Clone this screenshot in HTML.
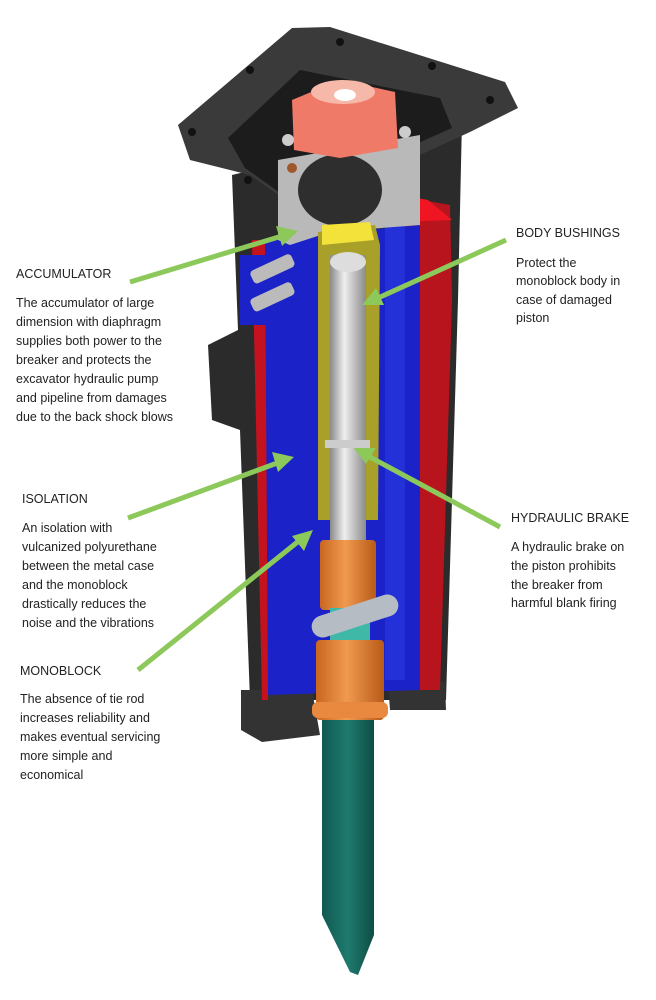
<!DOCTYPE html>
<html><head><meta charset="utf-8"><style>
html,body{margin:0;padding:0;background:#fff}
svg{display:block}
text{font-family:"Liberation Sans",sans-serif;font-size:12.5px;fill:#222}
</style></head><body>
<svg width="656" height="1000" viewBox="0 0 656 1000" xmlns="http://www.w3.org/2000/svg">
<defs>
<linearGradient id="pist" x1="0" x2="1"><stop offset="0" stop-color="#8a8a8a"/><stop offset="0.4" stop-color="#eee"/><stop offset="1" stop-color="#8a8a8a"/></linearGradient>
<linearGradient id="teal" x1="0" x2="1"><stop offset="0" stop-color="#0f5a52"/><stop offset="0.5" stop-color="#1f7a6e"/><stop offset="1" stop-color="#0e4d46"/></linearGradient>
<linearGradient id="org" x1="0" x2="1"><stop offset="0" stop-color="#c9661f"/><stop offset="0.45" stop-color="#f09a4f"/><stop offset="1" stop-color="#b85a18"/></linearGradient>
</defs>
<path d="M322 720 L374 720 L374 935 L358 975 L350 972 L322 915 Z" fill="url(#teal)"/>
<path d="M232 175 L462 120 L458 300 L446 700 L250 700 L240 430 L212 420 L208 345 L238 330 Z" fill="#2b2b2b"/>
<path d="M241 690 L312 690 L320 735 L262 742 L241 730 Z" fill="#333"/>
<path d="M388 682 L445 682 L446 710 L390 710 Z" fill="#333"/>
<path d="M178 125 L292 28 L330 27 L505 82 L518 108 L470 132 L300 210 L250 175 L190 160 Z" fill="#3a3a3a"/>
<path d="M228 138 L300 70 L440 98 L452 128 L290 200 L245 168 Z" fill="#1c1c1c"/>
<circle cx="192" cy="132" r="4" fill="#111"/><circle cx="250" cy="70" r="4" fill="#111"/><circle cx="340" cy="42" r="4" fill="#111"/><circle cx="432" cy="66" r="4" fill="#111"/><circle cx="490" cy="100" r="4" fill="#111"/><circle cx="248" cy="180" r="4" fill="#111"/>
<path d="M252 240 L268 240 L268 700 L262 700 Z" fill="#c5121f"/>
<path d="M395 195 L450 205 L452 300 L440 690 L395 690 Z" fill="#b8141e"/>
<path d="M400 195 L428 200 L452 220 L400 222 Z" fill="#f01522"/>
<path d="M265 240 L420 225 L420 690 L268 695 Z" fill="#1a22c8"/>
<rect x="385" y="225" width="20" height="455" fill="#2430d8"/>
<rect x="240" y="255" width="50" height="70" fill="#1a22c8"/>
<rect x="250" y="262" width="45" height="14" rx="4" fill="#bbb" transform="rotate(-25 272 269)"/>
<rect x="250" y="290" width="45" height="14" rx="4" fill="#bbb" transform="rotate(-25 272 297)"/>
<path d="M278 160 L420 135 L420 225 L330 232 L290 245 L278 240 Z" fill="#b9b9b9"/>
<ellipse cx="340" cy="190" rx="42" ry="36" fill="#2e2e2e"/>
<path d="M292 100 L340 80 L395 92 L398 148 L340 158 L294 150 Z" fill="#f07a68"/>
<ellipse cx="343" cy="92" rx="32" ry="12" fill="#f6b8a8"/>
<ellipse cx="345" cy="95" rx="11" ry="6" fill="#fff"/>
<circle cx="288" cy="140" r="6" fill="#ccc"/><circle cx="405" cy="132" r="6" fill="#ccc"/><circle cx="292" cy="168" r="5" fill="#a0582a"/>
<path d="M318 232 L375 225 L380 245 L378 520 L318 520 Z" fill="#a8a028"/>
<path d="M322 225 L370 222 L374 240 L322 245 Z" fill="#f2e23a"/>
<rect x="330" y="255" width="36" height="295" fill="url(#pist)"/>
<ellipse cx="348" cy="262" rx="18" ry="10" fill="#ddd"/>
<rect x="325" y="440" width="45" height="8" fill="#ccc"/>
<rect x="320" y="540" width="56" height="70" rx="4" fill="url(#org)"/>
<rect x="330" y="608" width="40" height="35" fill="#3fb8a8"/>
<rect x="310" y="605" width="90" height="22" rx="11" fill="#b5bcc4" transform="rotate(-18 355 616)"/>
<rect x="316" y="640" width="68" height="80" rx="4" fill="url(#org)"/>
<rect x="312" y="702" width="76" height="16" rx="6" fill="#e8893f"/>
<g stroke="#8cc85a" stroke-width="5" fill="#8cc85a">
<line x1="130" y1="282" x2="282" y2="236"/>
<line x1="506" y1="240" x2="378" y2="298"/>
<line x1="128" y1="518" x2="280" y2="462"/>
<line x1="500" y1="527" x2="368" y2="456"/>
<line x1="138" y1="670" x2="300" y2="540"/>
</g>
<g fill="#8cc85a">
<polygon points="298,231 276,226 282,246"/>
<polygon points="362,305 376,288 384,305"/>
<polygon points="294,457 272,452 278,472"/>
<polygon points="354,448 376,448 366,464"/>
<polygon points="313,530 292,536 304,551"/>
</g>
<text x="16" y="278">ACCUMULATOR</text>
<text x="16" y="307">The accumulator of large</text>
<text x="16" y="326">dimension with diaphragm</text>
<text x="16" y="345">supplies both power to the</text>
<text x="16" y="364">breaker and protects the</text>
<text x="16" y="383">excavator hydraulic pump</text>
<text x="16" y="402">and pipeline from damages</text>
<text x="16" y="421">due to the back shock blows</text>
<text x="22" y="503">ISOLATION</text>
<text x="22" y="532">An isolation with</text>
<text x="22" y="551">vulcanized polyurethane</text>
<text x="22" y="570">between the metal case</text>
<text x="22" y="589">and the monoblock</text>
<text x="22" y="608">drastically reduces the</text>
<text x="22" y="627">noise and the vibrations</text>
<text x="20" y="675">MONOBLOCK</text>
<text x="20" y="703">The absence of tie rod</text>
<text x="20" y="722">increases reliability and</text>
<text x="20" y="741">makes eventual servicing</text>
<text x="20" y="760">more simple and</text>
<text x="20" y="779">economical</text>
<text x="516" y="237">BODY BUSHINGS</text>
<text x="516" y="267">Protect the</text>
<text x="516" y="285">monoblock body in</text>
<text x="516" y="304">case of damaged</text>
<text x="516" y="322">piston</text>
<text x="511" y="522">HYDRAULIC BRAKE</text>
<text x="511" y="551">A hydraulic brake on</text>
<text x="511" y="570">the piston prohibits</text>
<text x="511" y="589">the breaker from</text>
<text x="511" y="607">harmful blank firing</text>
</svg>
</body></html>
